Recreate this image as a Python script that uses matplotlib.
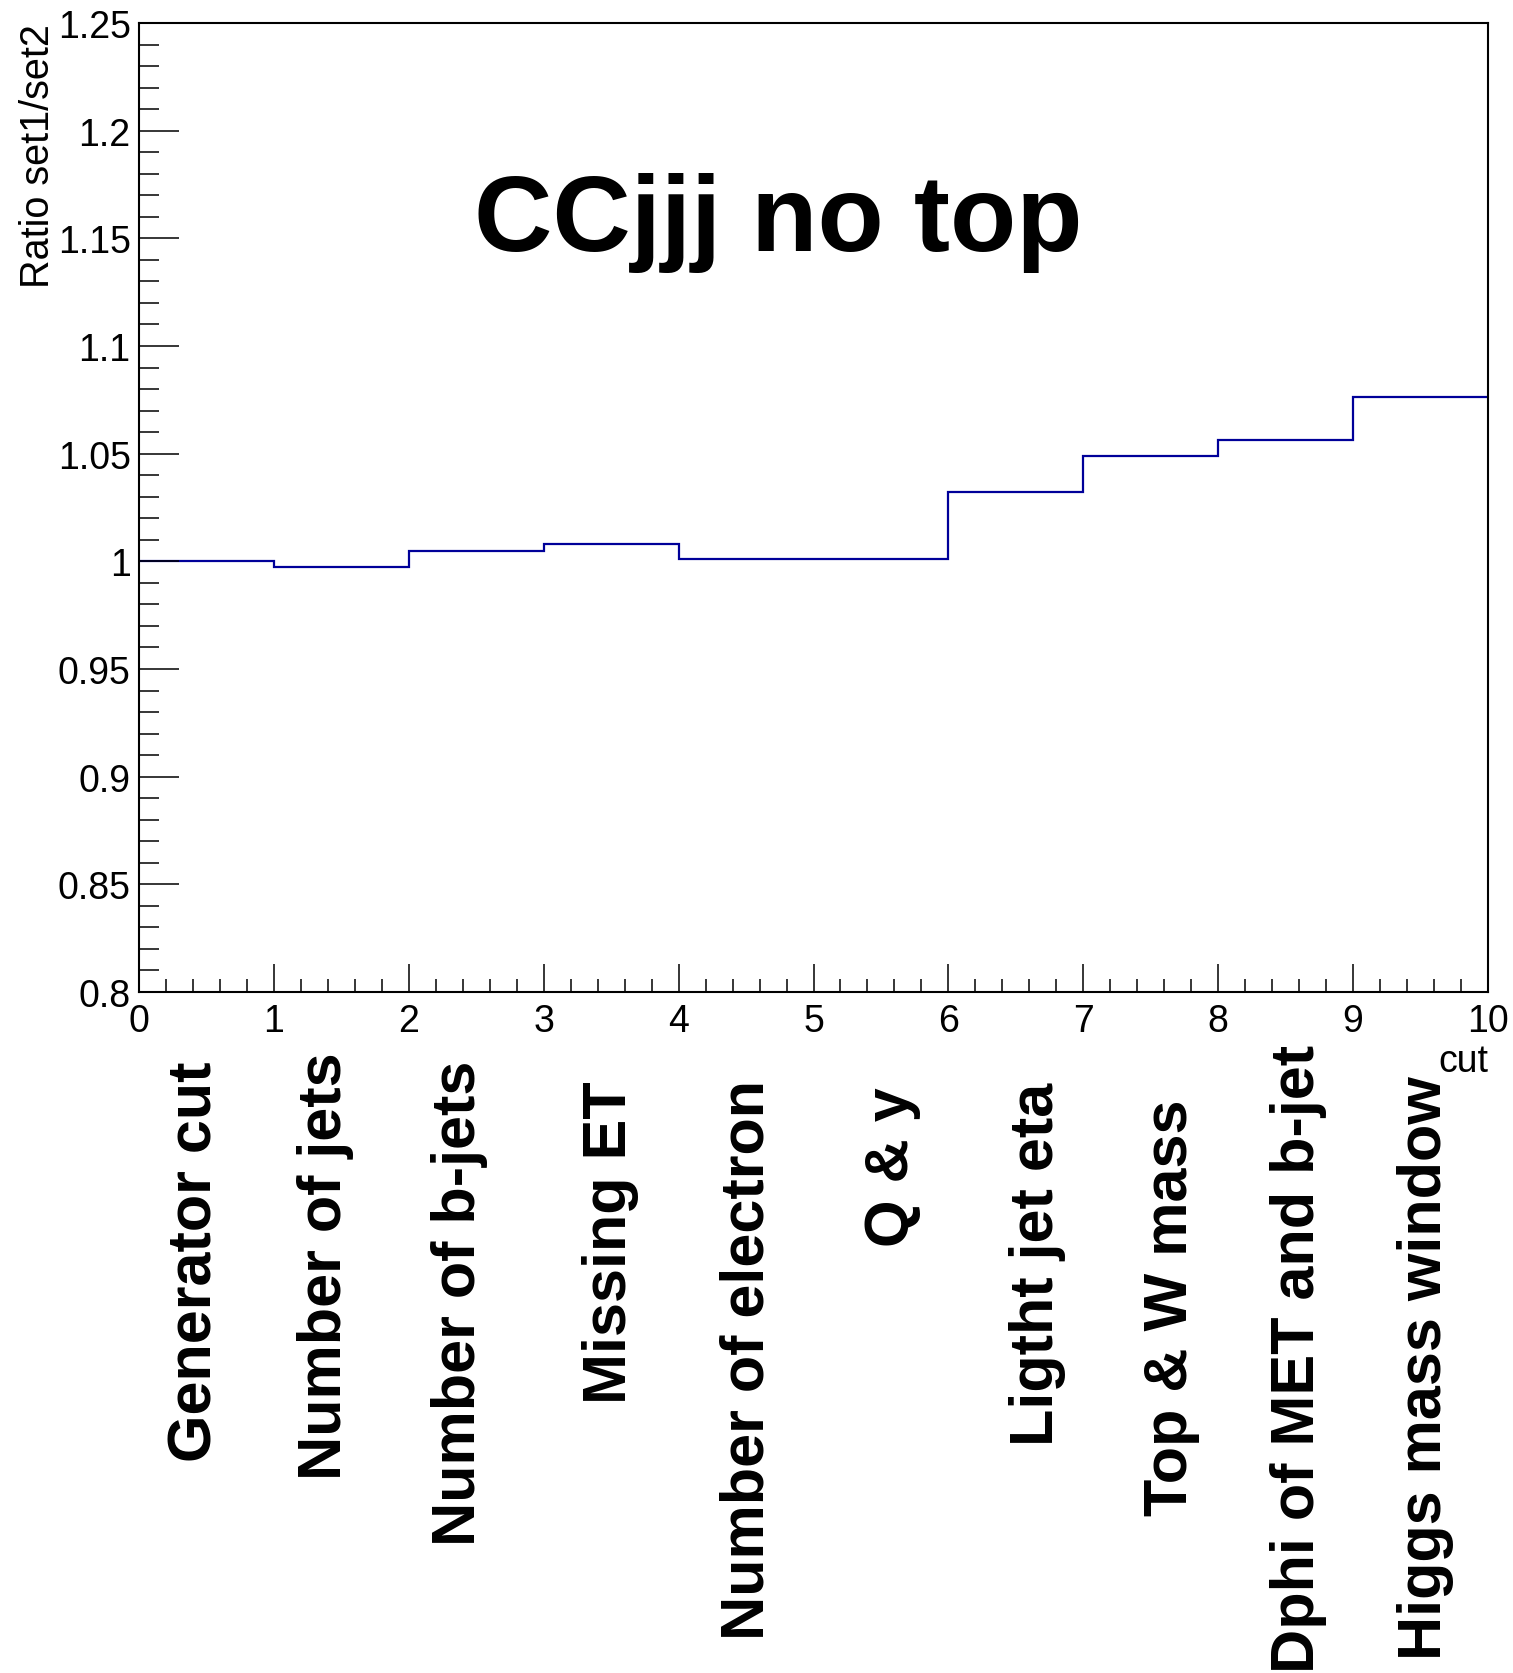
import numpy as np
import matplotlib
matplotlib.use('Agg')
from matplotlib import pyplot as plt
from matplotlib.ticker import MultipleLocator, FormatStrFormatter
from matplotlib.transforms import blended_transform_factory

plt.rcParams['font.family'] = ['Liberation Sans', 'DejaVu Sans']

# cut flow bins and ratio set1/set2 per cut
cut_names = ['Generator cut', 'Number of jets', 'Number of b-jets', 'Missing ET',
             'Number of electron', 'Q & y', 'Ligtht jet eta', 'Top & W mass',
             'Dphi of MET and b-jet', 'Higgs mass window']
ratio = [1.000, 0.9975, 1.005, 1.008, 1.001, 1.001, 1.032, 1.049, 1.0565, 1.0765]
bin_edges = np.arange(len(ratio) + 1)

LINE_COLOR = '#000099'

W, H = 1513, 1674
ax_left, ax_right, ax_top, ax_bottom = 139, 1488, 24, 993

# small per-label nudges (pixels) so the vertical names sit like in the original
label_dx_px = [-10, -16, -17, -1, 2, 12, 22, 21, 13, 5]
label_top_px = [1061, 1052, 1061, 1081, 1080, 1087, 1083, 1099, 1045, 1076]

fig = plt.figure(figsize=(15.13, 16.74), dpi=100)
fig.patch.set_facecolor('white')

ax = fig.add_axes([ax_left / W, 1 - ax_bottom / H, (ax_right - ax_left) / W, (ax_bottom - ax_top) / H])

ax.stairs(ratio, bin_edges, color=LINE_COLOR, linewidth=1.6, baseline=None)

ax.set_xlim(0, 10)
ax.set_ylim(0.8, 1.25)

for s in ax.spines.values():
    s.set_linewidth(1.5)

ax.xaxis.set_major_locator(MultipleLocator(1))
ax.xaxis.set_minor_locator(MultipleLocator(0.2))
ax.yaxis.set_major_locator(MultipleLocator(0.05))
ax.yaxis.set_minor_locator(MultipleLocator(0.01))
ax.yaxis.set_major_formatter(FormatStrFormatter('%g'))
ax.xaxis.set_major_formatter(FormatStrFormatter('%g'))

ax.tick_params(axis='both', which='both', direction='in', top=False, right=False, width=1.1)
ax.tick_params(axis='y', which='major', length=29, labelsize=27, pad=6)
ax.tick_params(axis='y', which='minor', length=14.5)
ax.tick_params(axis='x', which='major', length=20, labelsize=27, pad=8)
ax.tick_params(axis='x', which='minor', length=9.6)

# title inside the frame
ax.text(0.474, 0.766, 'CCjjj no top', transform=ax.transAxes, fontsize=78,
        fontweight='bold', ha='center', va='baseline')

# vertical cut names under each bin
px_per_unit = (ax_right - ax_left) / 10.0
trans = blended_transform_factory(ax.transData, ax.transAxes)
for i, name in enumerate(cut_names):
    xc = bin_edges[i] + 0.5 + label_dx_px[i] / px_per_unit
    yt = (ax_bottom - label_top_px[i]) / (ax_bottom - ax_top)
    ax.text(xc, yt, name, transform=trans, rotation=90,
            fontsize=44, fontweight='bold', ha='center', va='top')

# axis titles
ax.text(1.0, -0.071, 'cut', transform=ax.transAxes, fontsize=27, ha='right', va='center')
fig.text(38 / W, 1 - 24 / H, 'Ratio set1/set2', rotation=90, fontsize=28.5, ha='center', va='top')

fig.savefig('out.png', dpi=100, facecolor='white')
